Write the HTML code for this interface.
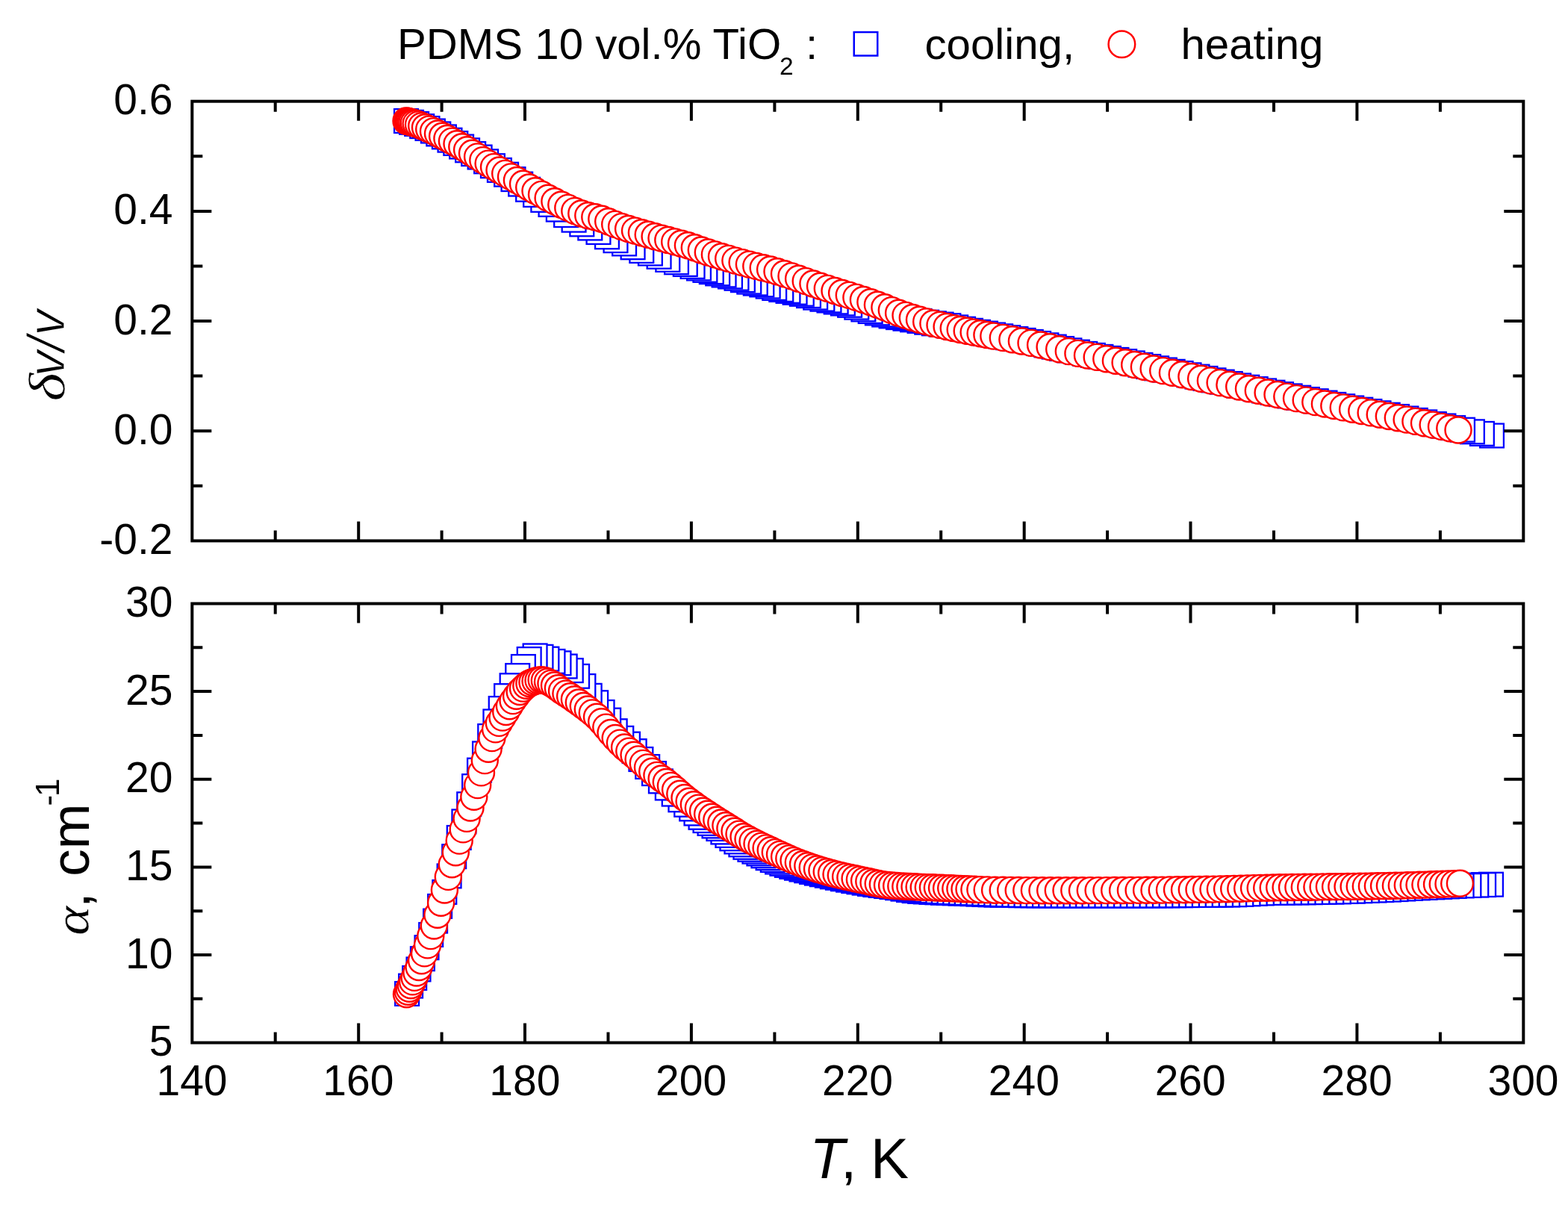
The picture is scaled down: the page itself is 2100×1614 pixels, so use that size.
<!DOCTYPE html>
<html><head><meta charset="utf-8"><title>PDMS 10 vol.% TiO2</title>
<style>html,body{margin:0;padding:0;background:#fff;}svg{display:block;filter:blur(0.5px);}text{font-family:"Liberation Sans",Arial,sans-serif;}.g{font-family:"Liberation Serif","Times New Roman",serif;font-style:italic;}</style></head><body>
<svg width="2100" height="1614" viewBox="0 0 2100 1614">
<rect x="0" y="0" width="2100" height="1614" fill="#fff"/>
<g fill="#fff" stroke="#0000ff" stroke-width="2.3">
<rect x="1982.1" y="567.6" width="31.8" height="31.8"/>
<rect x="1969.0" y="565.0" width="31.8" height="31.8"/>
<rect x="1956.0" y="562.4" width="31.8" height="31.8"/>
<rect x="1943.1" y="559.8" width="31.8" height="31.8"/>
<rect x="1930.3" y="557.2" width="31.8" height="31.8"/>
<rect x="1917.5" y="554.6" width="31.8" height="31.8"/>
<rect x="1904.9" y="552.1" width="31.8" height="31.8"/>
<rect x="1892.3" y="549.5" width="31.8" height="31.8"/>
<rect x="1879.9" y="547.0" width="31.8" height="31.8"/>
<rect x="1867.5" y="544.6" width="31.8" height="31.8"/>
<rect x="1855.1" y="542.1" width="31.8" height="31.8"/>
<rect x="1842.8" y="539.8" width="31.8" height="31.8"/>
<rect x="1830.6" y="537.4" width="31.8" height="31.8"/>
<rect x="1818.5" y="535.1" width="31.8" height="31.8"/>
<rect x="1806.4" y="532.8" width="31.8" height="31.8"/>
<rect x="1794.3" y="530.6" width="31.8" height="31.8"/>
<rect x="1782.3" y="528.3" width="31.8" height="31.8"/>
<rect x="1770.4" y="526.0" width="31.8" height="31.8"/>
<rect x="1758.6" y="523.7" width="31.8" height="31.8"/>
<rect x="1746.8" y="521.3" width="31.8" height="31.8"/>
<rect x="1735.0" y="519.1" width="31.8" height="31.8"/>
<rect x="1723.3" y="516.8" width="31.8" height="31.8"/>
<rect x="1711.7" y="514.5" width="31.8" height="31.8"/>
<rect x="1700.1" y="512.2" width="31.8" height="31.8"/>
<rect x="1688.6" y="509.8" width="31.8" height="31.8"/>
<rect x="1677.2" y="507.5" width="31.8" height="31.8"/>
<rect x="1665.8" y="505.2" width="31.8" height="31.8"/>
<rect x="1654.4" y="502.8" width="31.8" height="31.8"/>
<rect x="1643.2" y="500.5" width="31.8" height="31.8"/>
<rect x="1631.9" y="498.1" width="31.8" height="31.8"/>
<rect x="1620.8" y="495.7" width="31.8" height="31.8"/>
<rect x="1609.6" y="493.4" width="31.8" height="31.8"/>
<rect x="1598.6" y="491.0" width="31.8" height="31.8"/>
<rect x="1587.6" y="488.7" width="31.8" height="31.8"/>
<rect x="1576.6" y="486.4" width="31.8" height="31.8"/>
<rect x="1565.7" y="484.1" width="31.8" height="31.8"/>
<rect x="1554.8" y="481.9" width="31.8" height="31.8"/>
<rect x="1544.0" y="479.6" width="31.8" height="31.8"/>
<rect x="1533.2" y="477.4" width="31.8" height="31.8"/>
<rect x="1522.4" y="475.1" width="31.8" height="31.8"/>
<rect x="1511.6" y="472.9" width="31.8" height="31.8"/>
<rect x="1500.9" y="470.5" width="31.8" height="31.8"/>
<rect x="1490.3" y="468.2" width="31.8" height="31.8"/>
<rect x="1479.6" y="466.0" width="31.8" height="31.8"/>
<rect x="1469.0" y="464.0" width="31.8" height="31.8"/>
<rect x="1458.5" y="462.0" width="31.8" height="31.8"/>
<rect x="1447.9" y="460.0" width="31.8" height="31.8"/>
<rect x="1437.4" y="458.0" width="31.8" height="31.8"/>
<rect x="1427.0" y="455.7" width="31.8" height="31.8"/>
<rect x="1416.5" y="453.4" width="31.8" height="31.8"/>
<rect x="1406.2" y="451.1" width="31.8" height="31.8"/>
<rect x="1395.8" y="448.7" width="31.8" height="31.8"/>
<rect x="1385.5" y="446.4" width="31.8" height="31.8"/>
<rect x="1375.2" y="444.1" width="31.8" height="31.8"/>
<rect x="1364.9" y="442.0" width="31.8" height="31.8"/>
<rect x="1354.7" y="440.0" width="31.8" height="31.8"/>
<rect x="1344.5" y="438.1" width="31.8" height="31.8"/>
<rect x="1334.4" y="436.3" width="31.8" height="31.8"/>
<rect x="1324.3" y="434.4" width="31.8" height="31.8"/>
<rect x="1314.2" y="432.6" width="31.8" height="31.8"/>
<rect x="1304.1" y="430.7" width="31.8" height="31.8"/>
<rect x="1294.1" y="428.9" width="31.8" height="31.8"/>
<rect x="1284.1" y="426.9" width="31.8" height="31.8"/>
<rect x="1274.2" y="424.8" width="31.8" height="31.8"/>
<rect x="1264.3" y="422.5" width="31.8" height="31.8"/>
<rect x="1254.5" y="420.3" width="31.8" height="31.8"/>
<rect x="1244.7" y="418.7" width="31.8" height="31.8"/>
<rect x="1235.0" y="417.4" width="31.8" height="31.8"/>
<rect x="1225.3" y="415.8" width="31.8" height="31.8"/>
<rect x="1215.7" y="414.0" width="31.8" height="31.8"/>
<rect x="1206.1" y="412.4" width="31.8" height="31.8"/>
<rect x="1196.6" y="410.8" width="31.8" height="31.8"/>
<rect x="1187.1" y="409.2" width="31.8" height="31.8"/>
<rect x="1177.7" y="407.5" width="31.8" height="31.8"/>
<rect x="1168.3" y="405.6" width="31.8" height="31.8"/>
<rect x="1159.0" y="403.5" width="31.8" height="31.8"/>
<rect x="1149.8" y="401.1" width="31.8" height="31.8"/>
<rect x="1140.5" y="398.5" width="31.8" height="31.8"/>
<rect x="1131.4" y="395.8" width="31.8" height="31.8"/>
<rect x="1122.2" y="392.9" width="31.8" height="31.8"/>
<rect x="1113.0" y="390.6" width="31.8" height="31.8"/>
<rect x="1103.8" y="388.6" width="31.8" height="31.8"/>
<rect x="1094.6" y="386.6" width="31.8" height="31.8"/>
<rect x="1085.5" y="384.8" width="31.8" height="31.8"/>
<rect x="1076.3" y="382.7" width="31.8" height="31.8"/>
<rect x="1067.1" y="380.2" width="31.8" height="31.8"/>
<rect x="1057.9" y="377.9" width="31.8" height="31.8"/>
<rect x="1048.7" y="375.9" width="31.8" height="31.8"/>
<rect x="1039.6" y="374.0" width="31.8" height="31.8"/>
<rect x="1030.4" y="372.1" width="31.8" height="31.8"/>
<rect x="1021.3" y="370.1" width="31.8" height="31.8"/>
<rect x="1012.8" y="367.7" width="31.8" height="31.8"/>
<rect x="1004.4" y="365.5" width="31.8" height="31.8"/>
<rect x="995.9" y="363.7" width="31.8" height="31.8"/>
<rect x="987.4" y="361.7" width="31.8" height="31.8"/>
<rect x="979.0" y="359.3" width="31.8" height="31.8"/>
<rect x="970.6" y="356.9" width="31.8" height="31.8"/>
<rect x="962.1" y="354.6" width="31.8" height="31.8"/>
<rect x="953.7" y="352.6" width="31.8" height="31.8"/>
<rect x="945.3" y="350.5" width="31.8" height="31.8"/>
<rect x="936.9" y="348.3" width="31.8" height="31.8"/>
<rect x="928.5" y="346.0" width="31.8" height="31.8"/>
<rect x="920.1" y="343.6" width="31.8" height="31.8"/>
<rect x="911.7" y="341.1" width="31.8" height="31.8"/>
<rect x="901.9" y="338.1" width="31.8" height="31.8"/>
<rect x="890.1" y="335.4" width="31.8" height="31.8"/>
<rect x="878.4" y="332.0" width="31.8" height="31.8"/>
<rect x="866.7" y="327.9" width="31.8" height="31.8"/>
<rect x="855.0" y="323.6" width="31.8" height="31.8"/>
<rect x="843.4" y="320.1" width="31.8" height="31.8"/>
<rect x="831.7" y="315.4" width="31.8" height="31.8"/>
<rect x="820.2" y="310.5" width="31.8" height="31.8"/>
<rect x="808.6" y="306.3" width="31.8" height="31.8"/>
<rect x="797.1" y="301.4" width="31.8" height="31.8"/>
<rect x="785.6" y="295.1" width="31.8" height="31.8"/>
<rect x="774.4" y="289.6" width="31.8" height="31.8"/>
<rect x="763.4" y="284.5" width="31.8" height="31.8"/>
<rect x="752.7" y="278.8" width="31.8" height="31.8"/>
<rect x="742.2" y="272.2" width="31.8" height="31.8"/>
<rect x="731.9" y="264.7" width="31.8" height="31.8"/>
<rect x="721.6" y="258.0" width="31.8" height="31.8"/>
<rect x="711.4" y="252.0" width="31.8" height="31.8"/>
<rect x="701.2" y="245.1" width="31.8" height="31.8"/>
<rect x="691.2" y="237.9" width="31.8" height="31.8"/>
<rect x="681.3" y="230.7" width="31.8" height="31.8"/>
<rect x="671.6" y="224.2" width="31.8" height="31.8"/>
<rect x="662.2" y="217.8" width="31.8" height="31.8"/>
<rect x="653.0" y="212.0" width="31.8" height="31.8"/>
<rect x="644.0" y="206.3" width="31.8" height="31.8"/>
<rect x="635.2" y="200.4" width="31.8" height="31.8"/>
<rect x="626.7" y="194.6" width="31.8" height="31.8"/>
<rect x="618.3" y="190.2" width="31.8" height="31.8"/>
<rect x="610.2" y="185.4" width="31.8" height="31.8"/>
<rect x="602.2" y="180.6" width="31.8" height="31.8"/>
<rect x="594.4" y="176.1" width="31.8" height="31.8"/>
<rect x="586.6" y="171.8" width="31.8" height="31.8"/>
<rect x="579.0" y="167.5" width="31.8" height="31.8"/>
<rect x="571.4" y="163.5" width="31.8" height="31.8"/>
<rect x="564.0" y="159.6" width="31.8" height="31.8"/>
<rect x="556.6" y="156.1" width="31.8" height="31.8"/>
<rect x="549.3" y="153.2" width="31.8" height="31.8"/>
<rect x="542.2" y="150.0" width="31.8" height="31.8"/>
<rect x="535.1" y="147.9" width="31.8" height="31.8"/>
<rect x="528.1" y="146.1" width="31.8" height="31.8"/>
</g>
<g fill="#fff" stroke="#ff0000" stroke-width="2.4">
<circle cx="544.0" cy="162.0" r="17.5"/>
<circle cx="545.2" cy="162.3" r="17.5"/>
<circle cx="546.6" cy="162.6" r="17.5"/>
<circle cx="548.1" cy="163.0" r="17.5"/>
<circle cx="549.9" cy="163.5" r="17.5"/>
<circle cx="551.9" cy="164.0" r="17.5"/>
<circle cx="554.2" cy="164.7" r="17.5"/>
<circle cx="557.1" cy="165.6" r="17.5"/>
<circle cx="560.5" cy="166.9" r="17.5"/>
<circle cx="564.7" cy="168.8" r="17.5"/>
<circle cx="569.5" cy="170.8" r="17.5"/>
<circle cx="574.7" cy="173.1" r="17.5"/>
<circle cx="580.5" cy="175.9" r="17.5"/>
<circle cx="586.5" cy="179.0" r="17.5"/>
<circle cx="592.6" cy="182.2" r="17.5"/>
<circle cx="598.9" cy="185.5" r="17.5"/>
<circle cx="605.4" cy="189.1" r="17.5"/>
<circle cx="612.0" cy="192.8" r="17.5"/>
<circle cx="618.8" cy="196.7" r="17.5"/>
<circle cx="625.6" cy="200.8" r="17.5"/>
<circle cx="632.5" cy="205.3" r="17.5"/>
<circle cx="639.6" cy="209.9" r="17.5"/>
<circle cx="646.8" cy="214.6" r="17.5"/>
<circle cx="654.1" cy="219.1" r="17.5"/>
<circle cx="661.5" cy="223.6" r="17.5"/>
<circle cx="669.0" cy="228.0" r="17.5"/>
<circle cx="676.7" cy="232.4" r="17.5"/>
<circle cx="684.5" cy="236.9" r="17.5"/>
<circle cx="692.4" cy="241.5" r="17.5"/>
<circle cx="700.5" cy="246.2" r="17.5"/>
<circle cx="708.7" cy="251.0" r="17.5"/>
<circle cx="717.0" cy="255.7" r="17.5"/>
<circle cx="725.5" cy="260.4" r="17.5"/>
<circle cx="734.1" cy="265.2" r="17.5"/>
<circle cx="742.9" cy="269.8" r="17.5"/>
<circle cx="751.8" cy="274.2" r="17.5"/>
<circle cx="760.8" cy="278.4" r="17.5"/>
<circle cx="769.8" cy="282.5" r="17.5"/>
<circle cx="778.8" cy="286.0" r="17.5"/>
<circle cx="787.8" cy="288.8" r="17.5"/>
<circle cx="796.8" cy="290.7" r="17.5"/>
<circle cx="805.8" cy="293.3" r="17.5"/>
<circle cx="814.7" cy="296.7" r="17.5"/>
<circle cx="823.7" cy="300.4" r="17.5"/>
<circle cx="832.6" cy="303.6" r="17.5"/>
<circle cx="841.6" cy="306.5" r="17.5"/>
<circle cx="850.5" cy="309.1" r="17.5"/>
<circle cx="859.4" cy="311.7" r="17.5"/>
<circle cx="868.2" cy="314.2" r="17.5"/>
<circle cx="877.1" cy="316.7" r="17.5"/>
<circle cx="886.0" cy="319.1" r="17.5"/>
<circle cx="894.8" cy="321.5" r="17.5"/>
<circle cx="903.7" cy="323.9" r="17.5"/>
<circle cx="912.5" cy="326.2" r="17.5"/>
<circle cx="921.4" cy="328.7" r="17.5"/>
<circle cx="930.3" cy="331.8" r="17.5"/>
<circle cx="939.3" cy="335.0" r="17.5"/>
<circle cx="948.3" cy="338.0" r="17.5"/>
<circle cx="957.4" cy="340.9" r="17.5"/>
<circle cx="966.5" cy="343.7" r="17.5"/>
<circle cx="975.7" cy="346.4" r="17.5"/>
<circle cx="984.9" cy="349.1" r="17.5"/>
<circle cx="994.1" cy="351.6" r="17.5"/>
<circle cx="1003.4" cy="354.1" r="17.5"/>
<circle cx="1012.8" cy="356.4" r="17.5"/>
<circle cx="1022.2" cy="358.7" r="17.5"/>
<circle cx="1031.6" cy="361.0" r="17.5"/>
<circle cx="1041.0" cy="363.8" r="17.5"/>
<circle cx="1050.5" cy="366.8" r="17.5"/>
<circle cx="1060.0" cy="369.9" r="17.5"/>
<circle cx="1069.6" cy="373.2" r="17.5"/>
<circle cx="1079.2" cy="376.6" r="17.5"/>
<circle cx="1088.9" cy="380.0" r="17.5"/>
<circle cx="1098.5" cy="383.2" r="17.5"/>
<circle cx="1108.3" cy="386.4" r="17.5"/>
<circle cx="1118.0" cy="389.5" r="17.5"/>
<circle cx="1127.6" cy="392.5" r="17.5"/>
<circle cx="1137.3" cy="395.4" r="17.5"/>
<circle cx="1146.9" cy="398.4" r="17.5"/>
<circle cx="1156.4" cy="401.5" r="17.5"/>
<circle cx="1165.9" cy="404.8" r="17.5"/>
<circle cx="1175.4" cy="408.2" r="17.5"/>
<circle cx="1184.9" cy="411.8" r="17.5"/>
<circle cx="1194.3" cy="415.6" r="17.5"/>
<circle cx="1203.6" cy="419.2" r="17.5"/>
<circle cx="1213.0" cy="422.4" r="17.5"/>
<circle cx="1222.3" cy="425.5" r="17.5"/>
<circle cx="1231.5" cy="428.3" r="17.5"/>
<circle cx="1240.7" cy="430.9" r="17.5"/>
<circle cx="1249.9" cy="433.2" r="17.5"/>
<circle cx="1259.0" cy="435.4" r="17.5"/>
<circle cx="1268.1" cy="437.5" r="17.5"/>
<circle cx="1277.2" cy="439.6" r="17.5"/>
<circle cx="1286.2" cy="441.5" r="17.5"/>
<circle cx="1295.2" cy="443.3" r="17.5"/>
<circle cx="1304.1" cy="445.1" r="17.5"/>
<circle cx="1313.1" cy="446.8" r="17.5"/>
<circle cx="1321.9" cy="448.5" r="17.5"/>
<circle cx="1330.8" cy="450.1" r="17.5"/>
<circle cx="1343.3" cy="452.4" r="17.5"/>
<circle cx="1355.9" cy="454.7" r="17.5"/>
<circle cx="1368.4" cy="457.0" r="17.5"/>
<circle cx="1381.0" cy="459.4" r="17.5"/>
<circle cx="1393.6" cy="462.0" r="17.5"/>
<circle cx="1406.1" cy="464.8" r="17.5"/>
<circle cx="1418.7" cy="467.7" r="17.5"/>
<circle cx="1431.3" cy="470.6" r="17.5"/>
<circle cx="1443.9" cy="473.4" r="17.5"/>
<circle cx="1456.5" cy="476.0" r="17.5"/>
<circle cx="1469.2" cy="478.4" r="17.5"/>
<circle cx="1481.8" cy="480.8" r="17.5"/>
<circle cx="1494.4" cy="483.2" r="17.5"/>
<circle cx="1507.1" cy="485.8" r="17.5"/>
<circle cx="1519.7" cy="488.5" r="17.5"/>
<circle cx="1532.4" cy="491.3" r="17.5"/>
<circle cx="1545.1" cy="494.0" r="17.5"/>
<circle cx="1557.7" cy="496.6" r="17.5"/>
<circle cx="1570.4" cy="499.2" r="17.5"/>
<circle cx="1583.2" cy="501.8" r="17.5"/>
<circle cx="1595.9" cy="504.5" r="17.5"/>
<circle cx="1608.6" cy="507.2" r="17.5"/>
<circle cx="1621.4" cy="509.9" r="17.5"/>
<circle cx="1634.1" cy="512.6" r="17.5"/>
<circle cx="1646.9" cy="515.3" r="17.5"/>
<circle cx="1659.7" cy="518.0" r="17.5"/>
<circle cx="1672.5" cy="520.7" r="17.5"/>
<circle cx="1685.3" cy="523.3" r="17.5"/>
<circle cx="1698.1" cy="526.0" r="17.5"/>
<circle cx="1711.0" cy="528.5" r="17.5"/>
<circle cx="1723.8" cy="531.1" r="17.5"/>
<circle cx="1736.5" cy="533.6" r="17.5"/>
<circle cx="1749.2" cy="536.1" r="17.5"/>
<circle cx="1761.8" cy="538.6" r="17.5"/>
<circle cx="1774.4" cy="541.0" r="17.5"/>
<circle cx="1786.8" cy="543.5" r="17.5"/>
<circle cx="1799.2" cy="545.9" r="17.5"/>
<circle cx="1811.6" cy="548.2" r="17.5"/>
<circle cx="1823.8" cy="550.5" r="17.5"/>
<circle cx="1836.1" cy="552.9" r="17.5"/>
<circle cx="1848.2" cy="555.2" r="17.5"/>
<circle cx="1860.3" cy="557.5" r="17.5"/>
<circle cx="1872.3" cy="559.8" r="17.5"/>
<circle cx="1884.1" cy="562.1" r="17.5"/>
<circle cx="1895.9" cy="564.4" r="17.5"/>
<circle cx="1907.5" cy="566.8" r="17.5"/>
<circle cx="1919.1" cy="569.1" r="17.5"/>
<circle cx="1930.5" cy="571.4" r="17.5"/>
<circle cx="1941.8" cy="573.7" r="17.5"/>
<circle cx="1953.0" cy="576.0" r="17.5"/>
</g>
<g fill="#fff" stroke="#0000ff" stroke-width="2.3">
<rect x="1981.1" y="1168.8" width="31.8" height="31.8"/>
<rect x="1971.2" y="1169.2" width="31.8" height="31.8"/>
<rect x="1961.4" y="1169.7" width="31.8" height="31.8"/>
<rect x="1951.5" y="1170.1" width="31.8" height="31.8"/>
<rect x="1941.7" y="1170.5" width="31.8" height="31.8"/>
<rect x="1931.8" y="1171.0" width="31.8" height="31.8"/>
<rect x="1922.0" y="1171.5" width="31.8" height="31.8"/>
<rect x="1912.2" y="1172.0" width="31.8" height="31.8"/>
<rect x="1902.4" y="1172.5" width="31.8" height="31.8"/>
<rect x="1892.6" y="1173.0" width="31.8" height="31.8"/>
<rect x="1882.8" y="1173.5" width="31.8" height="31.8"/>
<rect x="1873.0" y="1174.0" width="31.8" height="31.8"/>
<rect x="1863.3" y="1174.6" width="31.8" height="31.8"/>
<rect x="1853.6" y="1175.2" width="31.8" height="31.8"/>
<rect x="1843.9" y="1175.7" width="31.8" height="31.8"/>
<rect x="1834.3" y="1176.2" width="31.8" height="31.8"/>
<rect x="1824.6" y="1176.6" width="31.8" height="31.8"/>
<rect x="1815.0" y="1177.0" width="31.8" height="31.8"/>
<rect x="1805.4" y="1177.4" width="31.8" height="31.8"/>
<rect x="1795.9" y="1177.8" width="31.8" height="31.8"/>
<rect x="1786.4" y="1178.1" width="31.8" height="31.8"/>
<rect x="1776.9" y="1178.5" width="31.8" height="31.8"/>
<rect x="1767.4" y="1178.7" width="31.8" height="31.8"/>
<rect x="1757.9" y="1178.9" width="31.8" height="31.8"/>
<rect x="1748.5" y="1179.1" width="31.8" height="31.8"/>
<rect x="1739.1" y="1179.3" width="31.8" height="31.8"/>
<rect x="1729.7" y="1179.4" width="31.8" height="31.8"/>
<rect x="1720.4" y="1179.5" width="31.8" height="31.8"/>
<rect x="1711.0" y="1179.6" width="31.8" height="31.8"/>
<rect x="1701.7" y="1179.8" width="31.8" height="31.8"/>
<rect x="1692.4" y="1179.9" width="31.8" height="31.8"/>
<rect x="1683.2" y="1180.1" width="31.8" height="31.8"/>
<rect x="1674.0" y="1180.5" width="31.8" height="31.8"/>
<rect x="1664.8" y="1180.9" width="31.8" height="31.8"/>
<rect x="1655.6" y="1181.5" width="31.8" height="31.8"/>
<rect x="1646.4" y="1182.0" width="31.8" height="31.8"/>
<rect x="1637.3" y="1182.4" width="31.8" height="31.8"/>
<rect x="1628.2" y="1182.6" width="31.8" height="31.8"/>
<rect x="1619.1" y="1182.7" width="31.8" height="31.8"/>
<rect x="1610.0" y="1182.8" width="31.8" height="31.8"/>
<rect x="1601.0" y="1182.9" width="31.8" height="31.8"/>
<rect x="1592.0" y="1183.0" width="31.8" height="31.8"/>
<rect x="1583.0" y="1183.1" width="31.8" height="31.8"/>
<rect x="1574.1" y="1183.2" width="31.8" height="31.8"/>
<rect x="1565.1" y="1183.3" width="31.8" height="31.8"/>
<rect x="1556.2" y="1183.3" width="31.8" height="31.8"/>
<rect x="1547.4" y="1183.4" width="31.8" height="31.8"/>
<rect x="1538.5" y="1183.5" width="31.8" height="31.8"/>
<rect x="1529.7" y="1183.5" width="31.8" height="31.8"/>
<rect x="1520.9" y="1183.5" width="31.8" height="31.8"/>
<rect x="1512.2" y="1183.6" width="31.8" height="31.8"/>
<rect x="1503.5" y="1183.6" width="31.8" height="31.8"/>
<rect x="1494.8" y="1183.6" width="31.8" height="31.8"/>
<rect x="1486.1" y="1183.6" width="31.8" height="31.8"/>
<rect x="1477.5" y="1183.6" width="31.8" height="31.8"/>
<rect x="1468.9" y="1183.6" width="31.8" height="31.8"/>
<rect x="1460.3" y="1183.6" width="31.8" height="31.8"/>
<rect x="1451.7" y="1183.6" width="31.8" height="31.8"/>
<rect x="1443.2" y="1183.6" width="31.8" height="31.8"/>
<rect x="1434.7" y="1183.6" width="31.8" height="31.8"/>
<rect x="1426.2" y="1183.6" width="31.8" height="31.8"/>
<rect x="1417.8" y="1183.6" width="31.8" height="31.8"/>
<rect x="1409.4" y="1183.6" width="31.8" height="31.8"/>
<rect x="1401.0" y="1183.6" width="31.8" height="31.8"/>
<rect x="1392.7" y="1183.6" width="31.8" height="31.8"/>
<rect x="1384.3" y="1183.5" width="31.8" height="31.8"/>
<rect x="1376.0" y="1183.5" width="31.8" height="31.8"/>
<rect x="1367.8" y="1183.4" width="31.8" height="31.8"/>
<rect x="1359.5" y="1183.3" width="31.8" height="31.8"/>
<rect x="1351.3" y="1183.3" width="31.8" height="31.8"/>
<rect x="1343.1" y="1183.1" width="31.8" height="31.8"/>
<rect x="1335.0" y="1183.0" width="31.8" height="31.8"/>
<rect x="1326.8" y="1182.9" width="31.8" height="31.8"/>
<rect x="1318.7" y="1182.7" width="31.8" height="31.8"/>
<rect x="1310.7" y="1182.4" width="31.8" height="31.8"/>
<rect x="1302.6" y="1182.1" width="31.8" height="31.8"/>
<rect x="1294.6" y="1181.7" width="31.8" height="31.8"/>
<rect x="1286.6" y="1181.3" width="31.8" height="31.8"/>
<rect x="1278.6" y="1181.0" width="31.8" height="31.8"/>
<rect x="1270.7" y="1180.7" width="31.8" height="31.8"/>
<rect x="1262.8" y="1180.4" width="31.8" height="31.8"/>
<rect x="1254.9" y="1180.1" width="31.8" height="31.8"/>
<rect x="1247.1" y="1179.8" width="31.8" height="31.8"/>
<rect x="1239.4" y="1179.4" width="31.8" height="31.8"/>
<rect x="1231.6" y="1179.0" width="31.8" height="31.8"/>
<rect x="1223.9" y="1178.5" width="31.8" height="31.8"/>
<rect x="1216.3" y="1178.0" width="31.8" height="31.8"/>
<rect x="1208.7" y="1177.2" width="31.8" height="31.8"/>
<rect x="1201.1" y="1176.1" width="31.8" height="31.8"/>
<rect x="1193.6" y="1174.7" width="31.8" height="31.8"/>
<rect x="1186.1" y="1173.3" width="31.8" height="31.8"/>
<rect x="1178.6" y="1172.1" width="31.8" height="31.8"/>
<rect x="1171.2" y="1171.1" width="31.8" height="31.8"/>
<rect x="1163.8" y="1170.1" width="31.8" height="31.8"/>
<rect x="1156.4" y="1169.1" width="31.8" height="31.8"/>
<rect x="1149.1" y="1168.0" width="31.8" height="31.8"/>
<rect x="1141.8" y="1166.7" width="31.8" height="31.8"/>
<rect x="1134.6" y="1165.4" width="31.8" height="31.8"/>
<rect x="1127.4" y="1164.1" width="31.8" height="31.8"/>
<rect x="1120.2" y="1162.7" width="31.8" height="31.8"/>
<rect x="1113.1" y="1161.3" width="31.8" height="31.8"/>
<rect x="1106.0" y="1159.8" width="31.8" height="31.8"/>
<rect x="1098.9" y="1158.4" width="31.8" height="31.8"/>
<rect x="1091.9" y="1156.8" width="31.8" height="31.8"/>
<rect x="1084.9" y="1155.3" width="31.8" height="31.8"/>
<rect x="1077.9" y="1153.7" width="31.8" height="31.8"/>
<rect x="1071.1" y="1152.0" width="31.8" height="31.8"/>
<rect x="1064.3" y="1150.3" width="31.8" height="31.8"/>
<rect x="1057.6" y="1148.6" width="31.8" height="31.8"/>
<rect x="1051.0" y="1146.8" width="31.8" height="31.8"/>
<rect x="1044.4" y="1145.0" width="31.8" height="31.8"/>
<rect x="1037.9" y="1143.0" width="31.8" height="31.8"/>
<rect x="1031.5" y="1140.9" width="31.8" height="31.8"/>
<rect x="1025.2" y="1138.6" width="31.8" height="31.8"/>
<rect x="1018.9" y="1136.1" width="31.8" height="31.8"/>
<rect x="1012.7" y="1133.3" width="31.8" height="31.8"/>
<rect x="1006.5" y="1130.4" width="31.8" height="31.8"/>
<rect x="1000.5" y="1127.5" width="31.8" height="31.8"/>
<rect x="994.5" y="1124.7" width="31.8" height="31.8"/>
<rect x="988.5" y="1121.9" width="31.8" height="31.8"/>
<rect x="982.5" y="1118.9" width="31.8" height="31.8"/>
<rect x="976.5" y="1115.4" width="31.8" height="31.8"/>
<rect x="970.5" y="1111.5" width="31.8" height="31.8"/>
<rect x="964.5" y="1107.4" width="31.8" height="31.8"/>
<rect x="958.5" y="1103.1" width="31.8" height="31.8"/>
<rect x="952.5" y="1098.6" width="31.8" height="31.8"/>
<rect x="946.5" y="1094.1" width="31.8" height="31.8"/>
<rect x="940.6" y="1090.5" width="31.8" height="31.8"/>
<rect x="934.6" y="1087.0" width="31.8" height="31.8"/>
<rect x="928.6" y="1083.2" width="31.8" height="31.8"/>
<rect x="922.6" y="1078.9" width="31.8" height="31.8"/>
<rect x="916.6" y="1073.6" width="31.8" height="31.8"/>
<rect x="910.3" y="1067.5" width="31.8" height="31.8"/>
<rect x="903.3" y="1061.9" width="31.8" height="31.8"/>
<rect x="895.5" y="1055.4" width="31.8" height="31.8"/>
<rect x="886.8" y="1047.7" width="31.8" height="31.8"/>
<rect x="877.9" y="1039.6" width="31.8" height="31.8"/>
<rect x="869.0" y="1030.5" width="31.8" height="31.8"/>
<rect x="860.1" y="1020.2" width="31.8" height="31.8"/>
<rect x="851.3" y="1011.1" width="31.8" height="31.8"/>
<rect x="842.5" y="1001.1" width="31.8" height="31.8"/>
<rect x="833.8" y="990.2" width="31.8" height="31.8"/>
<rect x="825.1" y="980.7" width="31.8" height="31.8"/>
<rect x="816.4" y="972.9" width="31.8" height="31.8"/>
<rect x="807.8" y="963.3" width="31.8" height="31.8"/>
<rect x="799.3" y="948.7" width="31.8" height="31.8"/>
<rect x="790.7" y="938.0" width="31.8" height="31.8"/>
<rect x="782.3" y="925.3" width="31.8" height="31.8"/>
<rect x="773.8" y="915.9" width="31.8" height="31.8"/>
<rect x="765.5" y="903.1" width="31.8" height="31.8"/>
<rect x="757.2" y="889.9" width="31.8" height="31.8"/>
<rect x="748.9" y="882.2" width="31.8" height="31.8"/>
<rect x="740.8" y="876.6" width="31.8" height="31.8"/>
<rect x="732.6" y="872.4" width="31.8" height="31.8"/>
<rect x="724.6" y="870.0" width="31.8" height="31.8"/>
<rect x="716.5" y="866.7" width="31.8" height="31.8"/>
<rect x="708.6" y="863.9" width="31.8" height="31.8"/>
<rect x="700.7" y="862.5" width="31.8" height="31.8"/>
<rect x="692.8" y="867.1" width="31.8" height="31.8"/>
<rect x="685.0" y="877.1" width="31.8" height="31.8"/>
<rect x="677.3" y="889.1" width="31.8" height="31.8"/>
<rect x="669.7" y="902.3" width="31.8" height="31.8"/>
<rect x="662.2" y="916.2" width="31.8" height="31.8"/>
<rect x="654.8" y="933.1" width="31.8" height="31.8"/>
<rect x="647.5" y="950.5" width="31.8" height="31.8"/>
<rect x="640.3" y="970.1" width="31.8" height="31.8"/>
<rect x="633.1" y="993.5" width="31.8" height="31.8"/>
<rect x="626.1" y="1015.7" width="31.8" height="31.8"/>
<rect x="619.2" y="1037.2" width="31.8" height="31.8"/>
<rect x="612.3" y="1061.3" width="31.8" height="31.8"/>
<rect x="605.5" y="1084.5" width="31.8" height="31.8"/>
<rect x="598.8" y="1106.1" width="31.8" height="31.8"/>
<rect x="592.3" y="1131.3" width="31.8" height="31.8"/>
<rect x="585.7" y="1157.5" width="31.8" height="31.8"/>
<rect x="579.4" y="1179.0" width="31.8" height="31.8"/>
<rect x="573.2" y="1198.0" width="31.8" height="31.8"/>
<rect x="567.2" y="1217.7" width="31.8" height="31.8"/>
<rect x="561.3" y="1236.1" width="31.8" height="31.8"/>
<rect x="555.6" y="1253.3" width="31.8" height="31.8"/>
<rect x="550.0" y="1268.3" width="31.8" height="31.8"/>
<rect x="544.6" y="1282.5" width="31.8" height="31.8"/>
<rect x="539.3" y="1294.1" width="31.8" height="31.8"/>
<rect x="534.2" y="1304.7" width="31.8" height="31.8"/>
<rect x="529.2" y="1315.1" width="31.8" height="31.8"/>
</g>
<g fill="#fff" stroke="#ff0000" stroke-width="2.4">
<circle cx="544.5" cy="1331.8" r="17.5"/>
<circle cx="546.3" cy="1328.2" r="17.5"/>
<circle cx="548.2" cy="1324.2" r="17.5"/>
<circle cx="550.3" cy="1319.8" r="17.5"/>
<circle cx="552.6" cy="1314.9" r="17.5"/>
<circle cx="555.1" cy="1309.4" r="17.5"/>
<circle cx="557.9" cy="1303.0" r="17.5"/>
<circle cx="561.1" cy="1295.5" r="17.5"/>
<circle cx="564.6" cy="1286.7" r="17.5"/>
<circle cx="568.5" cy="1276.9" r="17.5"/>
<circle cx="572.6" cy="1265.9" r="17.5"/>
<circle cx="576.8" cy="1253.6" r="17.5"/>
<circle cx="581.3" cy="1240.0" r="17.5"/>
<circle cx="585.9" cy="1225.2" r="17.5"/>
<circle cx="590.6" cy="1209.2" r="17.5"/>
<circle cx="595.4" cy="1192.0" r="17.5"/>
<circle cx="600.3" cy="1174.4" r="17.5"/>
<circle cx="605.3" cy="1157.7" r="17.5"/>
<circle cx="610.3" cy="1141.7" r="17.5"/>
<circle cx="615.2" cy="1126.1" r="17.5"/>
<circle cx="620.2" cy="1110.9" r="17.5"/>
<circle cx="625.1" cy="1096.4" r="17.5"/>
<circle cx="630.0" cy="1082.0" r="17.5"/>
<circle cx="634.8" cy="1067.3" r="17.5"/>
<circle cx="639.7" cy="1051.6" r="17.5"/>
<circle cx="644.5" cy="1034.9" r="17.5"/>
<circle cx="649.3" cy="1018.6" r="17.5"/>
<circle cx="654.1" cy="1003.3" r="17.5"/>
<circle cx="658.9" cy="988.6" r="17.5"/>
<circle cx="663.6" cy="976.9" r="17.5"/>
<circle cx="668.3" cy="968.4" r="17.5"/>
<circle cx="673.0" cy="961.1" r="17.5"/>
<circle cx="677.7" cy="953.5" r="17.5"/>
<circle cx="682.4" cy="945.7" r="17.5"/>
<circle cx="687.0" cy="938.6" r="17.5"/>
<circle cx="691.6" cy="932.2" r="17.5"/>
<circle cx="696.1" cy="926.5" r="17.5"/>
<circle cx="700.5" cy="922.1" r="17.5"/>
<circle cx="704.8" cy="918.3" r="17.5"/>
<circle cx="708.9" cy="915.5" r="17.5"/>
<circle cx="712.9" cy="913.8" r="17.5"/>
<circle cx="717.0" cy="912.3" r="17.5"/>
<circle cx="721.0" cy="911.2" r="17.5"/>
<circle cx="725.1" cy="910.8" r="17.5"/>
<circle cx="729.3" cy="911.5" r="17.5"/>
<circle cx="733.5" cy="913.1" r="17.5"/>
<circle cx="737.9" cy="915.4" r="17.5"/>
<circle cx="742.5" cy="918.0" r="17.5"/>
<circle cx="747.4" cy="921.7" r="17.5"/>
<circle cx="752.5" cy="925.6" r="17.5"/>
<circle cx="757.9" cy="929.1" r="17.5"/>
<circle cx="763.6" cy="932.7" r="17.5"/>
<circle cx="769.4" cy="936.7" r="17.5"/>
<circle cx="775.3" cy="941.0" r="17.5"/>
<circle cx="781.3" cy="945.5" r="17.5"/>
<circle cx="787.3" cy="950.0" r="17.5"/>
<circle cx="793.3" cy="954.9" r="17.5"/>
<circle cx="799.5" cy="960.3" r="17.5"/>
<circle cx="805.7" cy="966.8" r="17.5"/>
<circle cx="811.8" cy="974.1" r="17.5"/>
<circle cx="818.0" cy="981.5" r="17.5"/>
<circle cx="824.2" cy="988.5" r="17.5"/>
<circle cx="830.4" cy="995.1" r="17.5"/>
<circle cx="836.6" cy="1001.0" r="17.5"/>
<circle cx="842.8" cy="1006.1" r="17.5"/>
<circle cx="849.0" cy="1011.3" r="17.5"/>
<circle cx="855.1" cy="1016.9" r="17.5"/>
<circle cx="861.3" cy="1022.4" r="17.5"/>
<circle cx="867.5" cy="1027.9" r="17.5"/>
<circle cx="873.7" cy="1033.3" r="17.5"/>
<circle cx="879.9" cy="1038.4" r="17.5"/>
<circle cx="886.1" cy="1043.0" r="17.5"/>
<circle cx="892.3" cy="1047.5" r="17.5"/>
<circle cx="898.4" cy="1052.4" r="17.5"/>
<circle cx="904.6" cy="1057.8" r="17.5"/>
<circle cx="910.8" cy="1063.2" r="17.5"/>
<circle cx="917.0" cy="1068.5" r="17.5"/>
<circle cx="923.1" cy="1073.3" r="17.5"/>
<circle cx="929.3" cy="1077.8" r="17.5"/>
<circle cx="935.4" cy="1082.1" r="17.5"/>
<circle cx="941.5" cy="1086.2" r="17.5"/>
<circle cx="947.6" cy="1090.3" r="17.5"/>
<circle cx="953.7" cy="1094.3" r="17.5"/>
<circle cx="959.8" cy="1098.2" r="17.5"/>
<circle cx="965.8" cy="1102.0" r="17.5"/>
<circle cx="971.9" cy="1105.8" r="17.5"/>
<circle cx="977.9" cy="1109.5" r="17.5"/>
<circle cx="984.0" cy="1113.3" r="17.5"/>
<circle cx="990.0" cy="1117.1" r="17.5"/>
<circle cx="996.0" cy="1120.7" r="17.5"/>
<circle cx="1002.0" cy="1124.0" r="17.5"/>
<circle cx="1008.0" cy="1127.1" r="17.5"/>
<circle cx="1014.0" cy="1130.2" r="17.5"/>
<circle cx="1020.0" cy="1133.1" r="17.5"/>
<circle cx="1026.1" cy="1135.9" r="17.5"/>
<circle cx="1032.2" cy="1138.8" r="17.5"/>
<circle cx="1038.3" cy="1141.6" r="17.5"/>
<circle cx="1044.5" cy="1144.4" r="17.5"/>
<circle cx="1050.6" cy="1147.2" r="17.5"/>
<circle cx="1056.8" cy="1149.9" r="17.5"/>
<circle cx="1063.0" cy="1152.6" r="17.5"/>
<circle cx="1069.3" cy="1155.1" r="17.5"/>
<circle cx="1075.5" cy="1157.5" r="17.5"/>
<circle cx="1081.8" cy="1159.7" r="17.5"/>
<circle cx="1088.2" cy="1161.9" r="17.5"/>
<circle cx="1094.5" cy="1164.0" r="17.5"/>
<circle cx="1100.9" cy="1165.9" r="17.5"/>
<circle cx="1107.2" cy="1167.8" r="17.5"/>
<circle cx="1113.6" cy="1169.5" r="17.5"/>
<circle cx="1120.0" cy="1171.1" r="17.5"/>
<circle cx="1126.3" cy="1172.6" r="17.5"/>
<circle cx="1132.6" cy="1174.1" r="17.5"/>
<circle cx="1138.9" cy="1175.4" r="17.5"/>
<circle cx="1145.1" cy="1176.8" r="17.5"/>
<circle cx="1151.4" cy="1178.1" r="17.5"/>
<circle cx="1157.6" cy="1179.4" r="17.5"/>
<circle cx="1163.8" cy="1180.7" r="17.5"/>
<circle cx="1170.0" cy="1182.2" r="17.5"/>
<circle cx="1176.2" cy="1183.5" r="17.5"/>
<circle cx="1182.3" cy="1184.6" r="17.5"/>
<circle cx="1188.5" cy="1185.5" r="17.5"/>
<circle cx="1194.6" cy="1186.0" r="17.5"/>
<circle cx="1200.7" cy="1186.4" r="17.5"/>
<circle cx="1206.8" cy="1186.9" r="17.5"/>
<circle cx="1212.8" cy="1187.2" r="17.5"/>
<circle cx="1218.9" cy="1187.5" r="17.5"/>
<circle cx="1225.0" cy="1187.8" r="17.5"/>
<circle cx="1231.1" cy="1188.1" r="17.5"/>
<circle cx="1237.2" cy="1188.4" r="17.5"/>
<circle cx="1243.3" cy="1188.6" r="17.5"/>
<circle cx="1249.4" cy="1188.8" r="17.5"/>
<circle cx="1255.4" cy="1189.1" r="17.5"/>
<circle cx="1261.5" cy="1189.3" r="17.5"/>
<circle cx="1267.6" cy="1189.6" r="17.5"/>
<circle cx="1273.7" cy="1189.8" r="17.5"/>
<circle cx="1279.8" cy="1190.1" r="17.5"/>
<circle cx="1285.9" cy="1190.4" r="17.5"/>
<circle cx="1292.0" cy="1190.7" r="17.5"/>
<circle cx="1298.0" cy="1190.9" r="17.5"/>
<circle cx="1304.9" cy="1191.2" r="17.5"/>
<circle cx="1312.9" cy="1191.6" r="17.5"/>
<circle cx="1322.2" cy="1191.9" r="17.5"/>
<circle cx="1332.6" cy="1192.2" r="17.5"/>
<circle cx="1343.2" cy="1192.3" r="17.5"/>
<circle cx="1353.7" cy="1192.4" r="17.5"/>
<circle cx="1364.2" cy="1192.5" r="17.5"/>
<circle cx="1374.8" cy="1192.6" r="17.5"/>
<circle cx="1385.4" cy="1192.6" r="17.5"/>
<circle cx="1396.0" cy="1192.7" r="17.5"/>
<circle cx="1406.7" cy="1192.7" r="17.5"/>
<circle cx="1417.3" cy="1192.7" r="17.5"/>
<circle cx="1428.0" cy="1192.7" r="17.5"/>
<circle cx="1438.8" cy="1192.7" r="17.5"/>
<circle cx="1449.5" cy="1192.7" r="17.5"/>
<circle cx="1460.3" cy="1192.6" r="17.5"/>
<circle cx="1471.1" cy="1192.6" r="17.5"/>
<circle cx="1481.9" cy="1192.6" r="17.5"/>
<circle cx="1492.7" cy="1192.5" r="17.5"/>
<circle cx="1503.6" cy="1192.5" r="17.5"/>
<circle cx="1514.4" cy="1192.4" r="17.5"/>
<circle cx="1525.1" cy="1192.4" r="17.5"/>
<circle cx="1535.6" cy="1192.3" r="17.5"/>
<circle cx="1546.0" cy="1192.2" r="17.5"/>
<circle cx="1556.3" cy="1192.1" r="17.5"/>
<circle cx="1566.5" cy="1191.9" r="17.5"/>
<circle cx="1576.5" cy="1191.8" r="17.5"/>
<circle cx="1586.5" cy="1191.7" r="17.5"/>
<circle cx="1596.3" cy="1191.5" r="17.5"/>
<circle cx="1606.0" cy="1191.4" r="17.5"/>
<circle cx="1615.6" cy="1191.2" r="17.5"/>
<circle cx="1625.0" cy="1191.1" r="17.5"/>
<circle cx="1634.4" cy="1190.9" r="17.5"/>
<circle cx="1643.6" cy="1190.7" r="17.5"/>
<circle cx="1652.7" cy="1190.4" r="17.5"/>
<circle cx="1661.8" cy="1190.2" r="17.5"/>
<circle cx="1670.7" cy="1189.9" r="17.5"/>
<circle cx="1679.5" cy="1189.6" r="17.5"/>
<circle cx="1688.2" cy="1189.4" r="17.5"/>
<circle cx="1696.7" cy="1189.2" r="17.5"/>
<circle cx="1705.2" cy="1189.0" r="17.5"/>
<circle cx="1713.7" cy="1188.8" r="17.5"/>
<circle cx="1722.1" cy="1188.7" r="17.5"/>
<circle cx="1730.5" cy="1188.5" r="17.5"/>
<circle cx="1738.9" cy="1188.4" r="17.5"/>
<circle cx="1747.3" cy="1188.3" r="17.5"/>
<circle cx="1755.6" cy="1188.2" r="17.5"/>
<circle cx="1763.9" cy="1188.1" r="17.5"/>
<circle cx="1772.1" cy="1187.9" r="17.5"/>
<circle cx="1780.4" cy="1187.8" r="17.5"/>
<circle cx="1788.6" cy="1187.7" r="17.5"/>
<circle cx="1796.8" cy="1187.6" r="17.5"/>
<circle cx="1805.0" cy="1187.5" r="17.5"/>
<circle cx="1813.1" cy="1187.4" r="17.5"/>
<circle cx="1821.2" cy="1187.2" r="17.5"/>
<circle cx="1829.3" cy="1187.1" r="17.5"/>
<circle cx="1837.4" cy="1187.0" r="17.5"/>
<circle cx="1845.4" cy="1186.8" r="17.5"/>
<circle cx="1853.5" cy="1186.6" r="17.5"/>
<circle cx="1861.4" cy="1186.5" r="17.5"/>
<circle cx="1869.4" cy="1186.3" r="17.5"/>
<circle cx="1877.3" cy="1186.1" r="17.5"/>
<circle cx="1885.3" cy="1185.8" r="17.5"/>
<circle cx="1893.2" cy="1185.6" r="17.5"/>
<circle cx="1901.0" cy="1185.3" r="17.5"/>
<circle cx="1908.9" cy="1185.1" r="17.5"/>
<circle cx="1916.7" cy="1184.8" r="17.5"/>
<circle cx="1924.5" cy="1184.5" r="17.5"/>
<circle cx="1932.2" cy="1184.2" r="17.5"/>
<circle cx="1940.0" cy="1183.9" r="17.5"/>
<circle cx="1947.7" cy="1183.6" r="17.5"/>
<circle cx="1955.4" cy="1183.3" r="17.5"/>
</g>
<rect x="257.3" y="135.7" width="1783.0" height="588.7" fill="none" stroke="#000" stroke-width="4.0"/>
<path d="M368.7 724.4v-14M368.7 135.7v14M480.2 724.4v-26M480.2 135.7v26M591.6 724.4v-14M591.6 135.7v14M703.0 724.4v-26M703.0 135.7v26M814.5 724.4v-14M814.5 135.7v14M925.9 724.4v-26M925.9 135.7v26M1037.4 724.4v-14M1037.4 135.7v14M1148.8 724.4v-26M1148.8 135.7v26M1260.2 724.4v-14M1260.2 135.7v14M1371.7 724.4v-26M1371.7 135.7v26M1483.1 724.4v-14M1483.1 135.7v14M1594.5 724.4v-26M1594.5 135.7v26M1706.0 724.4v-14M1706.0 135.7v14M1817.4 724.4v-26M1817.4 135.7v26M1928.9 724.4v-14M1928.9 135.7v14" stroke="#000" stroke-width="4.0" fill="none"/>
<rect x="257.3" y="808.5" width="1783.0" height="588.1" fill="none" stroke="#000" stroke-width="4.0"/>
<path d="M368.7 1396.6v-14M368.7 808.5v14M480.2 1396.6v-26M480.2 808.5v26M591.6 1396.6v-14M591.6 808.5v14M703.0 1396.6v-26M703.0 808.5v26M814.5 1396.6v-14M814.5 808.5v14M925.9 1396.6v-26M925.9 808.5v26M1037.4 1396.6v-14M1037.4 808.5v14M1148.8 1396.6v-26M1148.8 808.5v26M1260.2 1396.6v-14M1260.2 808.5v14M1371.7 1396.6v-26M1371.7 808.5v26M1483.1 1396.6v-14M1483.1 808.5v14M1594.5 1396.6v-26M1594.5 808.5v26M1706.0 1396.6v-14M1706.0 808.5v14M1817.4 1396.6v-26M1817.4 808.5v26M1928.9 1396.6v-14M1928.9 808.5v14" stroke="#000" stroke-width="4.0" fill="none"/>
<path d="M257.3 650.8h14M2040.3 650.8h-14M257.3 577.2h26M2040.3 577.2h-26M257.3 503.6h14M2040.3 503.6h-14M257.3 430.0h26M2040.3 430.0h-26M257.3 356.5h14M2040.3 356.5h-14M257.3 282.9h26M2040.3 282.9h-26M257.3 209.3h14M2040.3 209.3h-14M257.3 1337.8h14M2040.3 1337.8h-14M257.3 1279.0h26M2040.3 1279.0h-26M257.3 1220.2h14M2040.3 1220.2h-14M257.3 1161.4h26M2040.3 1161.4h-26M257.3 1102.5h14M2040.3 1102.5h-14M257.3 1043.7h26M2040.3 1043.7h-26M257.3 984.9h14M2040.3 984.9h-14M257.3 926.1h26M2040.3 926.1h-26M257.3 867.3h14M2040.3 867.3h-14" stroke="#000" stroke-width="4.0" fill="none"/>
<text x="231.5" y="153.2" font-size="57" text-anchor="end">0.6</text>
<text x="231.5" y="300.4" font-size="57" text-anchor="end">0.4</text>
<text x="231.5" y="447.5" font-size="57" text-anchor="end">0.2</text>
<text x="231.5" y="594.7" font-size="57" text-anchor="end">0.0</text>
<text x="231.5" y="741.9" font-size="57" text-anchor="end">-0.2</text>
<text x="231.5" y="826.0" font-size="57" text-anchor="end">30</text>
<text x="231.5" y="943.6" font-size="57" text-anchor="end">25</text>
<text x="231.5" y="1061.2" font-size="57" text-anchor="end">20</text>
<text x="231.5" y="1178.9" font-size="57" text-anchor="end">15</text>
<text x="231.5" y="1296.5" font-size="57" text-anchor="end">10</text>
<text x="231.5" y="1414.1" font-size="57" text-anchor="end">5</text>
<text x="257.0" y="1467" font-size="57" text-anchor="middle">140</text>
<text x="479.9" y="1467" font-size="57" text-anchor="middle">160</text>
<text x="702.8" y="1467" font-size="57" text-anchor="middle">180</text>
<text x="925.6" y="1467" font-size="57" text-anchor="middle">200</text>
<text x="1148.5" y="1467" font-size="57" text-anchor="middle">220</text>
<text x="1371.4" y="1467" font-size="57" text-anchor="middle">240</text>
<text x="1594.2" y="1467" font-size="57" text-anchor="middle">260</text>
<text x="1817.1" y="1467" font-size="57" text-anchor="middle">280</text>
<text x="2040.0" y="1467" font-size="57" text-anchor="middle">300</text>
<text x="1084.4" y="1578" font-size="76.5" font-style="italic">T</text>
<text x="1126" y="1578" font-size="76.5">,</text>
<text x="1165.9" y="1578" font-size="76.5">K</text>
<text transform="translate(85.5,537.6) rotate(-90) scale(1.2,0.98)" font-size="68" class="g" stroke="#fff" stroke-width="0.6">δ</text>
<text transform="translate(86,504.4) rotate(-90)" font-size="70" font-style="italic" stroke="#fff" stroke-width="1.2">v</text>
<text transform="translate(85.5,470.5) rotate(-90)" font-size="70" font-style="italic" stroke="#fff" stroke-width="1.2">/</text>
<text transform="translate(86,449.8) rotate(-90)" font-size="70" font-style="italic" stroke="#fff" stroke-width="1.2">v</text>
<text transform="translate(118.3,1253) rotate(-90) scale(1.04,0.92)" font-size="72" class="g" stroke="#fff" stroke-width="0.5">α</text>
<text transform="translate(119.5,1216) rotate(-90)" font-size="74">,</text>
<text transform="translate(118.5,1173.7) rotate(-90)" font-size="73">cm</text>
<text transform="translate(78.5,1079.5) rotate(-90)" font-size="44">-</text>
<text transform="translate(78.5,1067) rotate(-90)" font-size="44">1</text>
<text x="532.0" y="78.8" font-size="58.2">PDMS 10 vol.% TiO</text>
<text x="1044.0" y="100.3" font-size="33.5">2</text>
<text x="1079.0" y="78.8" font-size="58.2">:</text>
<rect x="1143.75" y="43.05" width="31.5" height="31.5" fill="#fff" stroke="#0000ff" stroke-width="2.5"/>
<text x="1238.5" y="78.8" font-size="58.2">cooling,</text>
<circle cx="1502.4" cy="59.3" r="17.8" fill="#fff" stroke="#ff0000" stroke-width="2.5"/>
<text x="1581.5" y="78.8" font-size="58.2">heating</text>
</svg></body></html>
